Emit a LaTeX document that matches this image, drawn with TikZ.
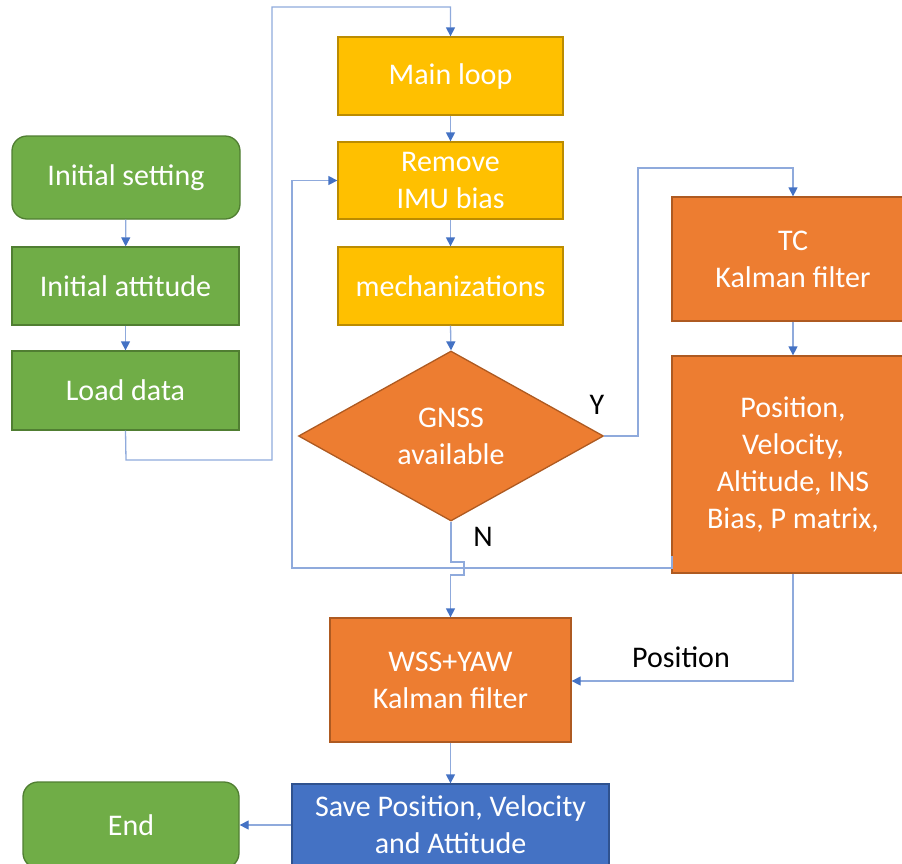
\documentclass[tikz,border=0pt]{standalone}
\usepackage{fontspec}
\setmainfont{Carlito}
\usetikzlibrary{arrows.meta,shapes.geometric}
\definecolor{gfill}{HTML}{70AD47}\definecolor{gdraw}{HTML}{507E32}
\definecolor{yfill}{HTML}{FFC000}\definecolor{ydraw}{HTML}{BC8C00}
\definecolor{ofill}{HTML}{ED7D31}\definecolor{odraw}{HTML}{AE5A21}
\definecolor{bfill}{HTML}{4472C4}\definecolor{bdraw}{HTML}{2F528F}
\definecolor{linkc}{HTML}{8FAADC}\definecolor{tipc}{HTML}{4472C4}
\begin{document}
\begin{tikzpicture}[x=1pt,y=-1pt,
  font=\fontsize{30}{37}\selectfont,
  box/.style={rectangle,inner sep=0pt,line width=1.3pt,text=white,align=center},
  greenbox/.style={box,fill=gfill,draw=gdraw},
  yellowbox/.style={box,fill=yfill,draw=ydraw},
  orangebox/.style={box,fill=ofill,draw=odraw},
  bluebox/.style={box,fill=bfill,draw=bdraw},
  link/.style={draw=linkc,line width=1.3pt},
  flow/.style={link,-{Triangle[length=9pt,width=9pt,color=tipc]}},
  lbl/.style={text=black,inner sep=0pt}]
\useasboundingbox (0,0) rectangle (902,863);
\clip (0,0) rectangle (902,863);

% left column: set-up steps
\node[greenbox,rounded corners=15pt,minimum width=228pt,minimum height=83pt] (set) at (126,177.5) {Initial setting};
\node[greenbox,minimum width=227pt,minimum height=78pt] (att) at (125.5,286) {Initial attitude};
\node[greenbox,minimum width=227pt,minimum height=79pt] (load) at (125.5,390.5) {Load data};

% middle column: main loop
\node[yellowbox,minimum width=225pt,minimum height=78pt] (main) at (450.5,76) {Main loop};
\node[yellowbox,minimum width=225pt,minimum height=77pt] (bias) at (450.5,180.5) {Remove\\IMU bias};
\node[yellowbox,minimum width=225pt,minimum height=78pt] (mech) at (450.5,286) {mechanizations};
\node[orangebox,diamond,minimum width=305pt,minimum height=170pt] (gnss) at (451,436) {GNSS\\available};

% right column: tightly coupled filter
\node[orangebox,minimum width=242pt,minimum height=124pt] (tc) at (793,259) {TC\\Kalman filter};
\node[orangebox,minimum width=242pt,minimum height=217pt] (pos) at (793,464.5) {Position,\\Velocity,\\Altitude, INS\\Bias, P matrix,};

% bottom: second filter and output
\node[orangebox,minimum width=241pt,minimum height=124pt] (wss) at (450.5,680) {WSS+YAW\\Kalman filter};
\node[bluebox,minimum width=317pt,minimum height=82pt] (save) at (450.5,825) {Save Position, Velocity\\and Attitude};
\node[greenbox,rounded corners=15pt,minimum width=216pt,minimum height=86pt] (end) at (131,825) {End};

% labels
\node[lbl] (ylab) at (597,405) {Y};
\node[lbl] (nlab) at (483,537) {N};
\node[lbl] (plab) at (681,657) {Position};

% route points
\coordinate (l1) at (126,460);
\coordinate (l2) at (272,460);
\coordinate (l3) at (272,7);
\coordinate (l4) at (450.5,7);
\coordinate (y1) at (638,436);
\coordinate (y2) at (638,168);
\coordinate (y3) at (793,168);
\coordinate (f0) at (672,556);
\coordinate (f1) at (672,568);
\coordinate (f2) at (292,568);
\coordinate (f3) at (292,180.5);
\coordinate (n1) at (451,562);
\coordinate (n2) at (464,562);
\coordinate (n3) at (464,575);
\coordinate (n4) at (450.5,575);
\coordinate (p1) at (793,681);

% connectors
\draw[flow] (set) -- (att);
\draw[flow] (att) -- (load);
\draw[flow] (load.south) -- (l1) -- (l2) -- (l3) -- (l4) -- (main.north);
\draw[flow] (main) -- (bias);
\draw[flow] (bias) -- (mech);
\draw[flow] (mech.south) -- (gnss.north);
\draw[flow] (gnss.east) -- (y1) -- (y2) -- (y3) -- (tc.north);
\draw[flow] (tc) -- (pos);
\draw[flow] (f0) -- (f1) -- (f2) -- (f3) -- (bias.west);
\draw[flow] (gnss.south) -- (n1) -- (n2) -- (n3) -- (n4) -- (wss.north);
\draw[flow] (pos.south) -- (p1) -- (wss.east |- p1);
\draw[flow] (wss) -- (save);
\draw[flow] (save) -- (end);
\end{tikzpicture}
\end{document}
